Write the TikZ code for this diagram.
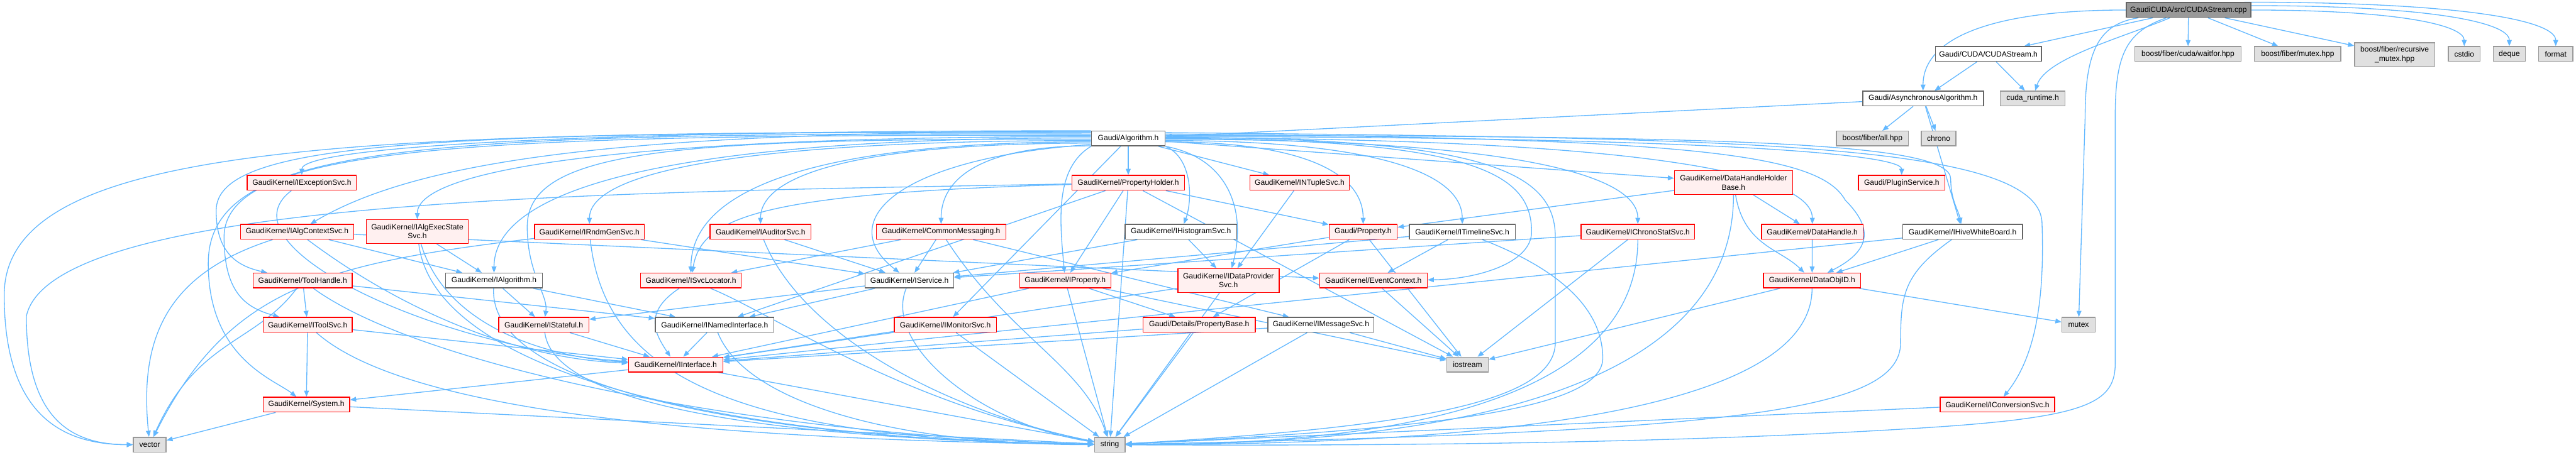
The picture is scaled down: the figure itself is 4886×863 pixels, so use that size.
\documentclass[tikz,border=0pt]{standalone}
\usepackage{fontspec}
\setmainfont{Liberation Sans}
\usetikzlibrary{arrows.meta,calc}
\pgfdeclarelayer{bg}
\pgfsetlayers{bg,main}
\definecolor{edgec}{HTML}{63B8FF}
\definecolor{grayA}{HTML}{666666}
\definecolor{grayB}{HTML}{999999}
\definecolor{grayC}{HTML}{E0E0E0}
\definecolor{pinkf}{HTML}{FFF0F0}
\begin{document}
\begin{tikzpicture}[x=0.01cm,y=-0.01cm,
  box/.style={rectangle, inner sep=0pt, minimum height=0.28cm, font=\fontsize{4.1}{4.9}\selectfont, align=center, line width=0.5pt, text=black},
  wd/.style={minimum width=#1*0.01cm},
  tall/.style={minimum height=0.45cm},
  plain/.style={box, draw=grayA, fill=white},
  trunc/.style={box, draw=red, fill=pinkf},
  ext/.style={box, draw=grayB, fill=grayC},
  rootn/.style={box, draw=grayA, fill=grayB},
  lnk/.style={draw=edgec, line width=0.45pt, -{Triangle[length=3.3pt,width=2.6pt]}},
  hv/.style={to path={.. controls ($(\tikztostart)!0.7!(\tikztotarget|-\tikztostart)$) and ($(\tikztotarget|-\tikztostart)!0.35!(\tikztotarget)$) .. (\tikztotarget)}},
  vh/.style={to path={.. controls ($(\tikztostart)!0.7!(\tikztostart|-\tikztotarget)$) and ($(\tikztostart|-\tikztotarget)!0.35!(\tikztotarget)$) .. (\tikztotarget)}},
]
\useasboundingbox (0,0) rectangle (4886,863);

% nodes
\node[rootn,wd=236] (root) at (4151,19) {GaudiCUDA/src/CUDAStream.cpp};
\node[plain,wd=201] (cudah) at (3771.5,102.5) {Gaudi/CUDA/CUDAStream.h};
\node[plain,wd=229] (async) at (3647.5,187) {Gaudi/AsynchronousAlgorithm.h};
\node[ext,wd=123] (cudart) at (3855.5,187) {cuda\_runtime.h};
\node[ext,wd=202] (waitfor) at (4150,102.5) {boost/fiber/cuda/waitfor.hpp};
\node[ext,wd=164] (fmutex) at (4358,102.5) {boost/fiber/mutex.hpp};
\node[ext,wd=152,tall] (rmutex) at (4542,103.5) {boost/fiber/recursive\\\_mutex.hpp};
\node[ext,wd=60] (cstdio) at (4674,102.5) {cstdio};
\node[ext,wd=61] (deque) at (4759.5,102.5) {deque};
\node[ext,wd=65] (format) at (4847.5,102.5) {format};
\node[ext,wd=137] (allhpp) at (3551.5,263) {boost/fiber/all.hpp};
\node[ext,wd=66] (chrono) at (3677,263) {chrono};
\node[plain,wd=140] (alg) at (2140,263) {Gaudi/Algorithm.h};
\node[trunc,wd=207] (exc) at (572.5,347) {GaudiKernel/IExceptionSvc.h};
\node[trunc,wd=214] (pholder) at (2140,347) {GaudiKernel/PropertyHolder.h};
\node[trunc,wd=188] (ntuple) at (2465,347) {GaudiKernel/INTupleSvc.h};
\node[trunc,wd=224,tall] (dhhb) at (3288,346.5) {GaudiKernel/DataHandleHolder\\Base.h};
\node[trunc,wd=164] (plugin) at (3607,347) {Gaudi/PluginService.h};
\node[trunc,wd=215] (actx) at (563.5,440) {GaudiKernel/IAlgContextSvc.h};
\node[trunc,wd=193,tall] (aexec) at (791.5,439.5) {GaudiKernel/IAlgExecState\\Svc.h};
\node[trunc,wd=208] (rndm) at (1118,440) {GaudiKernel/IRndmGenSvc.h};
\node[trunc,wd=191] (audit) at (1442.5,440) {GaudiKernel/IAuditorSvc.h};
\node[trunc,wd=246] (cmsg) at (1785,440) {GaudiKernel/CommonMessaging.h};
\node[plain,wd=212] (histo) at (2240,440) {GaudiKernel/IHistogramSvc.h};
\node[trunc,wd=129] (gprop) at (2585.5,440) {Gaudi/Property.h};
\node[plain,wd=201] (timeline) at (2773.5,440) {GaudiKernel/ITimelineSvc.h};
\node[trunc,wd=215] (chronosvc) at (3106.5,440) {GaudiKernel/IChronoStatSvc.h};
\node[trunc,wd=193] (dhandle) at (3437.5,440) {GaudiKernel/DataHandle.h};
\node[plain,wd=227] (hive) at (3722.5,440) {GaudiKernel/IHiveWhiteBoard.h};
\node[trunc,wd=188] (toolh) at (574,532.5) {GaudiKernel/ToolHandle.h};
\node[plain,wd=184] (ialg) at (937,532.5) {GaudiKernel/IAlgorithm.h};
\node[trunc,wd=191] (svcloc) at (1310.5,532.5) {GaudiKernel/ISvcLocator.h};
\node[plain,wd=168] (isvc) at (1725,532.5) {GaudiKernel/IService.h};
\node[trunc,wd=173] (iprop) at (2020.5,532.5) {GaudiKernel/IProperty.h};
\node[trunc,wd=192,tall] (dprov) at (2330,532.5) {GaudiKernel/IDataProvider\\Svc.h};
\node[trunc,wd=204] (evctx) at (2605,532.5) {GaudiKernel/EventContext.h};
\node[trunc,wd=184] (dobjid) at (3437,532.5) {GaudiKernel/DataObjID.h};
\node[trunc,wd=169] (toolsvc) at (583.5,616.5) {GaudiKernel/IToolSvc.h};
\node[trunc,wd=171] (istate) at (1031.5,616.5) {GaudiKernel/IStateful.h};
\node[plain,wd=225] (named) at (1355.5,616.5) {GaudiKernel/INamedInterface.h};
\node[trunc,wd=194] (imon) at (1793,616.5) {GaudiKernel/IMonitorSvc.h};
\node[trunc,wd=213] (pbase) at (2274.5,616.5) {Gaudi/Details/PropertyBase.h};
\node[plain,wd=201] (imsg) at (2505.5,616.5) {GaudiKernel/IMessageSvc.h};
\node[ext,wd=63] (mutex) at (3942.5,616.5) {mutex};
\node[trunc,wd=179] (iintf) at (1281.5,692) {GaudiKernel/IInterface.h};
\node[ext,wd=79] (iostream) at (2783.5,692) {iostream};
\node[trunc,wd=164] (system) at (581,768) {GaudiKernel/System.h};
\node[trunc,wd=217] (iconv) at (3788.5,768) {GaudiKernel/IConversionSvc.h};
\node[ext,wd=62] (vector) at (284,844) {vector};
\node[ext,wd=58] (string) at (2105,844) {string};

\begin{pgfonlayer}{bg}
% root
\draw[lnk] (root) -- (cudah);
\draw[lnk] (root.west) to[hv] (async);
\draw[lnk] (root) .. controls (4030,70) and (3880,110) .. (cudart);
\draw[lnk] (root) -- (waitfor);
\draw[lnk] (root) -- (fmutex);
\draw[lnk] (root) -- (rmutex);
\draw[lnk] (root.0) to[hv] (cstdio);
\draw[lnk] (root.4) to[hv] (deque);
\draw[lnk] (root.8) to[hv] (format);
\draw[lnk] (root) .. controls (3985,45) and (3955,90) .. (3955,220) -- (mutex);
\draw[lnk] (root) .. controls (4035,60) and (4012,100) .. (4012,220) -- (4012,690) .. controls (4012,770) and (3950,795) .. (3600,815) .. controls (3100,845) and (2500,846) .. (string);
\draw[lnk] (cudah) -- (async);
\draw[lnk] (cudah) -- (cudart);
\draw[lnk] (async) -- (alg);
\draw[lnk] (async) -- (allhpp);
\draw[lnk] (async) -- (chrono);
\draw[lnk] (async) -- (hive);
% Algorithm, left
\draw[lnk] (alg.170) .. controls (700,250) and (8,262) .. (8,560) .. controls (8,790) and (120,844) .. (vector);
\draw[lnk] (alg.north west) to[hv] (exc);
\draw[lnk] (alg.169) .. controls (1200,250) and (800,300) .. (actx);
\draw[lnk] (alg.171) .. controls (800,248) and (410,270) .. (410,400) .. controls (410,480) and (450,505) .. (toolh);
\draw[lnk] (alg.173) .. controls (800,252) and (395,270) .. (395,500) .. controls (395,680) and (520,720) .. (system);
\draw[lnk] (alg.175) .. controls (900,255) and (425,275) .. (425,450) .. controls (425,560) and (470,585) .. (toolsvc);
\draw[lnk] (alg.177) to[hv] (aexec);
\draw[lnk] (alg.179) to[hv] (ialg);
\draw[lnk] (alg.181) .. controls (1300,263) and (1000,280) .. (1000,430) .. controls (1000,520) and (1040,560) .. (istate);
\draw[lnk] (alg.183) to[hv] (rndm);
\draw[lnk] (alg.185) to[hv] (svcloc);
\draw[lnk] (alg.187) to[hv] (audit);
\draw[lnk] (alg.191) to[hv] (cmsg);
\draw[lnk] (alg.189) .. controls (1700,300) and (1580,420) .. (isvc);
% Algorithm, right
\draw[lnk] (alg) -- (pholder);
\draw[lnk] (alg) -- (ntuple);
\draw[lnk] (alg.south east) .. controls (2262,300) and (2262,380) .. (histo);
\draw[lnk] (alg.south west) .. controls (2000,320) and (2010,420) .. (iprop);
\draw[lnk] (alg) -- (imon);
\draw[lnk] (alg.south east) .. controls (2330,300) and (2365,400) .. (dprov);
\draw[lnk] (alg.355) to[hv] (gprop);
\draw[lnk] (alg.357) to[hv] (timeline);
\draw[lnk] (alg.359) to[hv] (chronosvc);
\draw[lnk] (alg) -- (dhhb);
\draw[lnk] (alg.1) to[hv] (dhandle);
\draw[lnk] (alg.3) to[hv] (plugin);
\draw[lnk] (alg.5) .. controls (3300,258) and (3700,270) .. (3700,340) .. controls (3700,380) and (3715,400) .. (hive);
\draw[lnk] (alg.7) .. controls (3200,262) and (3450,290) .. (3500,380) .. controls (3560,440) and (3540,480) .. (dobjid);
\draw[lnk] (alg.9) .. controls (3300,262) and (3860,270) .. (3873,420) .. controls (3880,600) and (3850,690) .. (iconv);
\draw[lnk] (alg.east) .. controls (2800,263) and (2905,330) .. (2905,440) .. controls (2905,500) and (2800,530) .. (evctx);
\draw[lnk] (alg.2) .. controls (2800,262) and (2950,320) .. (2950,450) -- (2950,650) .. controls (2950,760) and (2700,810) .. (string);
% PropertyHolder
\draw[lnk] (pholder) -- (iprop);
\draw[lnk] (pholder) -- (gprop);
\draw[lnk] (pholder) .. controls +(-700,20) and +(20,-120) .. (svcloc);
\draw[lnk] (pholder) .. controls (1200,365) and (100,370) .. (50,600) .. controls (50,790) and (130,844) .. (vector);
\draw[lnk] (pholder) -- (string);
\draw[lnk] (pholder) -- (named);
\draw[lnk] (pholder) -- (iostream);
% others
\draw[lnk] (exc) .. controls +(-160,120) and +(-450,-30) .. (iintf);
\draw[lnk] (actx) -- (ialg);
\draw[lnk] (actx) .. controls +(-250,80) and +(-20,-200) .. (vector);
\draw[lnk] (actx) .. controls +(200,150) and +(-300,-10) .. (iintf);
\draw[lnk] (actx) -- (evctx);
\draw[lnk] (aexec) -- (ialg);
\draw[lnk] (aexec) .. controls +(60,200) and +(-200,-10) .. (iintf);
\draw[lnk] (aexec) .. controls +(30,250) and +(-800,-10) .. (string);
\draw[lnk] (rndm) -- (isvc);
\draw[lnk] (rndm) .. controls +(-500,60) and +(150,-300) .. (vector);
\draw[lnk] (rndm) .. controls +(30,280) and +(-700,-10) .. (string);
\draw[lnk] (toolh) -- (toolsvc);
\draw[lnk] (toolh) -- (named);
\draw[lnk] (toolh) .. controls +(-90,120) and +(90,-200) .. (vector);
\draw[lnk] (toolh) .. controls +(220,160) and +(-700,-20) .. (string);
\draw[lnk] (ialg) -- (istate);
\draw[lnk] (ialg) -- (named);
\draw[lnk] (ialg) .. controls +(-10,200) and +(-700,-10) .. (string);
\draw[lnk] (svcloc) .. controls +(-90,60) and +(-40,-60) .. (iintf);
\draw[lnk] (svcloc) .. controls +(150,60) and +(-400,-80) .. (string);
\draw[lnk] (audit) -- (isvc);
\draw[lnk] (audit) .. controls +(80,200) and +(-300,-60) .. (string);
\draw[lnk] (cmsg) -- (isvc);
\draw[lnk] (cmsg) -- (svcloc);
\draw[lnk] (cmsg) -- (imsg);
\draw[lnk] (cmsg) .. controls +(130,200) and +(-50,-150) .. (string);
\draw[lnk] (histo) -- (isvc);
\draw[lnk] (histo) -- (dprov);
\draw[lnk] (isvc) -- (named);
\draw[lnk] (isvc) -- (istate);
\draw[lnk] (isvc) .. controls +(-50,120) and +(-250,-40) .. (string);
\draw[lnk] (iprop) -- (iintf);
\draw[lnk] (iprop) -- (pbase);
\draw[lnk] (iprop) -- (string);
\draw[lnk] (iprop) -- (iostream);
\draw[lnk] (dprov) -- (iintf);
\draw[lnk] (dprov) -- (string);
\draw[lnk] (ntuple) -- (dprov);
\draw[lnk] (gprop) -- (iprop);
\draw[lnk] (gprop) -- (pbase);
\draw[lnk] (gprop) -- (iostream);
\draw[lnk] (timeline) -- (isvc);
\draw[lnk] (timeline) -- (evctx);
\draw[lnk] (timeline) .. controls (2980,520) and (3040,600) .. (3040,680) .. controls (3040,780) and (2700,815) .. (string);
\draw[lnk] (evctx) -- (iostream);
\draw[lnk] (chronosvc) -- (isvc);
\draw[lnk] (chronosvc) -- (iostream);
\draw[lnk] (chronosvc) to[vh] (string);
\draw[lnk] (dhhb) -- (gprop);
\draw[lnk] (dhhb) -- (dhandle);
\draw[lnk] (dhhb) .. controls +(20,120) and +(-60,-60) .. (dobjid);
\draw[lnk] (dhhb) to[vh] (string);
\draw[lnk] (dhandle) -- (dobjid);
\draw[lnk] (dobjid) -- (iostream);
\draw[lnk] (dobjid) -- (mutex);
\draw[lnk] (dobjid) to[vh] (string);
\draw[lnk] (hive) -- (dobjid);
\draw[lnk] (hive) -- (iintf);
\draw[lnk] (hive) .. controls (3610,520) and (3605,560) .. (3605,650) .. controls (3605,780) and (3300,820) .. (string);
\draw[lnk] (iconv) -- (string);
\draw[lnk] (toolsvc) -- (system);
\draw[lnk] (toolsvc) -- (iintf);
\draw[lnk] (toolsvc) .. controls +(180,160) and +(-800,-10) .. (string);
\draw[lnk] (istate) -- (iintf);
\draw[lnk] (istate) .. controls +(20,160) and +(-600,-10) .. (string);
\draw[lnk] (named) -- (iintf);
\draw[lnk] (named) .. controls +(60,150) and +(-400,0) .. (string);
\draw[lnk] (imon) -- (iintf);
\draw[lnk] (imon) -- (string);
\draw[lnk] (pbase) -- (iintf);
\draw[lnk] (pbase) -- (string);
\draw[lnk] (imsg) -- (iintf);
\draw[lnk] (imsg) -- (iostream);
\draw[lnk] (imsg) -- (string);
\draw[lnk] (iintf) -- (system);
\draw[lnk] (iintf) -- (string);
\draw[lnk] (system) -- (vector);
\draw[lnk] (system) -- (string);
\end{pgfonlayer}
\end{tikzpicture}
\end{document}
